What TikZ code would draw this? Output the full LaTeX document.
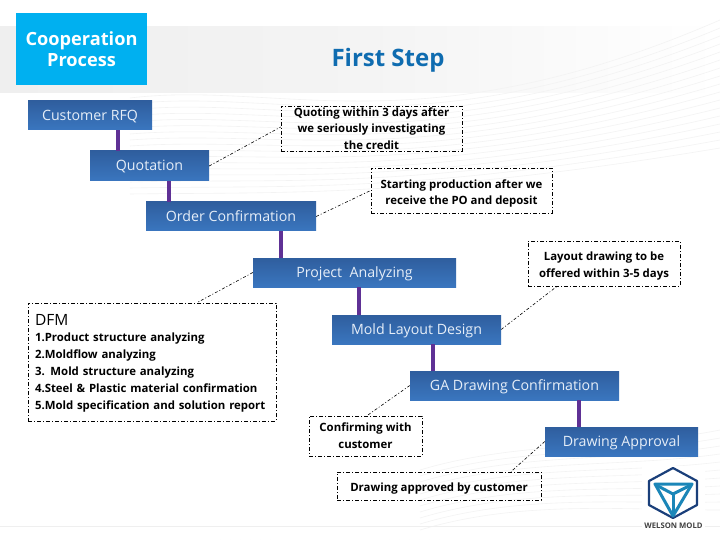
\documentclass[tikz,border=0pt]{standalone}
\usepackage{fontspec}
\setmainfont{Open Sans}
\definecolor{boxtop}{HTML}{2F5E9E}
\definecolor{boxbot}{HTML}{3A76BF}
\definecolor{linkpurple}{HTML}{5F3195}
\definecolor{cyanbox}{HTML}{00B0F0}
\definecolor{titleblue}{HTML}{0F6CB0}
\definecolor{lightband}{HTML}{EFEFEF}
\definecolor{ripple}{HTML}{F3F3F3}
\definecolor{logoa}{HTML}{1A3F7A}
\definecolor{logob}{HTML}{1B86B8}
\definecolor{paletext}{HTML}{E6EEF8}
\tikzset{
  stepbox/.style={rectangle,top color=boxtop,bottom color=boxbot,draw=none,text=paletext,font=\fontsize{14.2}{16}\selectfont,inner sep=0pt,text height=11pt,text depth=1pt},
  notebox/.style={rectangle,draw=black,line width=0.7pt,dash pattern=on 4pt off 2pt on 1pt off 2pt,align=center,inner sep=0pt,text=black,font=\fontsize{11.4}{16.8}\selectfont\bfseries},
  linkbar/.style={draw=linkpurple,line width=4pt},
  leader/.style={draw=black,line width=0.6pt,dash pattern=on 3pt off 2pt on 1pt off 2pt},
  ripplearc/.style={draw=ripple,line width=0.6pt}
}
\begin{document}
\begin{tikzpicture}[x=1pt,y=-1pt]
\useasboundingbox (0,0) rectangle (720,540);
\fill[white] (0,0) rectangle (720,540);
% background band and ripples
\begin{scope}
\clip (0,0) rectangle (720,540);
\shade[left color=lightband,right color=white,middle color=lightband!70!white] (0,27) rectangle (720,93);
\foreach \i in {0,...,16}{
  \draw[ripplearc] (130,{98+\i*6}) .. controls (280,{80+\i*7}) and (420,{150+\i*3}) .. (720,{20+\i*8});
}
\foreach \r in {60,70,...,220}{
  \draw[ripplearc] (330,540) ++(180:\r) arc[start angle=180,end angle=360,radius=\r,y radius=-\r];
}
\foreach \i in {0,...,10}{
  \draw[ripplearc] (420,{470+\i*6}) .. controls (520,{440+\i*6}) and (620,{450+\i*6}) .. (720,{430+\i*8});
}
\fill[lightband] (0,525.5) rectangle (720,526.5);
\end{scope}
% header
\node[rectangle,fill=cyanbox,minimum width=131pt,minimum height=72pt,inner sep=0pt,align=center,text=white,font=\fontsize{18.2}{21}\selectfont\bfseries] (head) at (81.5,49) {Cooperation\\Process};
\node[text=titleblue,font=\fontsize{24}{26}\selectfont\bfseries,inner sep=0pt] (title) at (388,60.5) {First Step};
% process steps
\node[stepbox,minimum width=124pt,minimum height=29pt] (rfq) at (90,115.5) {Customer RFQ};
\node[stepbox,minimum width=119pt,minimum height=30pt] (quot) at (149.5,166) {Quotation};
\node[stepbox,minimum width=170pt,minimum height=29pt] (order) at (231,216.5) {Order Confirmation};
\node[stepbox,minimum width=203pt,minimum height=29pt] (proj) at (354.5,272.5) {Project\ \ Analyzing};
\node[stepbox,minimum width=169pt,minimum height=29pt] (mold) at (416.5,329.5) {Mold Layout Design};
\node[stepbox,minimum width=209pt,minimum height=29pt] (ga) at (514.5,385.5) {GA Drawing Confirmation};
\node[stepbox,minimum width=153pt,minimum height=29pt] (appr) at (621.5,441.5) {Drawing Approval};
% notes
\node[notebox,minimum width=181pt,minimum height=45pt] (n1) at (371.5,128.5) {Quoting within 3 days after\\we seriously investigating\\the credit};
\node[notebox,minimum width=181pt,minimum height=45pt,font=\fontsize{11.4}{16}\selectfont\bfseries] (n2) at (461.5,190.5) {\rule{0pt}{15pt}Starting production after we\\receive the PO and deposit};
\node[notebox,minimum width=152pt,minimum height=45pt] (n3) at (604,263.5) {\rule{0pt}{13pt}Layout drawing to be\\offered within 3-5 days};
\node[notebox,minimum width=248pt,minimum height=118pt,align=left,text width=234pt] (n4) at (152,362) {\rule{0pt}{13pt}{\fontsize{15.5}{16.8}\selectfont\mdseries DFM}\\1.Product structure analyzing\\2.Moldflow analyzing\\3. Mold structure analyzing\\4.Steel \& Plastic material confirmation\\5.Mold specification and solution report};
\node[notebox,minimum width=113pt,minimum height=40pt] (n5) at (365.5,436) {Confirming with\\customer};
\node[notebox,minimum width=204pt,minimum height=28pt] (n6) at (439,486) {\rule{0pt}{13pt}Drawing approved by customer};
% connectors
\draw[linkbar] ([xshift=28pt]rfq.south) -- ([xshift=-31.5pt]quot.north);
\draw[linkbar] ([xshift=19.5pt]quot.south) -- ([xshift=-62pt]order.north);
\draw[linkbar] ([xshift=50pt]order.south) -- ([xshift=-73.5pt]proj.north);
\draw[linkbar] ([xshift=4.5pt]proj.south) -- ([xshift=-57.5pt]mold.north);
\draw[linkbar] ([xshift=16.5pt]mold.south) -- ([xshift=-81.5pt]ga.north);
\draw[linkbar] ([xshift=64.5pt]ga.south) -- ([xshift=-42.5pt]appr.north);
\draw[leader] (quot.east) -- ([yshift=1.5pt]n1.west);
\draw[leader] (order.east) -- (n2.west);
\draw[leader] (proj.west) -- ([xshift=45pt]n4.north);
\draw[leader] (mold.east) -- ([xshift=-47pt]n3.south);
\draw[leader] (ga.west) -- ([xshift=1.5pt]n5.north);
\draw[leader] (appr.west) -- ([xshift=72pt]n6.north);
% logo
\fill[white] (642,466) rectangle (705,532);
\draw[logoa,line width=2.2pt,line join=round] (673,468) -- (697,481) -- (697,505) -- (673,518) -- (649,505) -- (649,481) -- cycle;
\draw[logob,line width=3pt,line join=round] (655,484) -- (692,484) -- (673,516) -- cycle;
\draw[logob,line width=3pt] (656,485) -- (673,494) -- (691,485);
\draw[logob,line width=3pt] (673,494) -- (673,516);
\node[text=black!75,font=\fontsize{7.7}{8}\selectfont\bfseries,inner sep=0pt] (logot) at (673.5,526) {WELSON MOLD};
\end{tikzpicture}
\end{document}
